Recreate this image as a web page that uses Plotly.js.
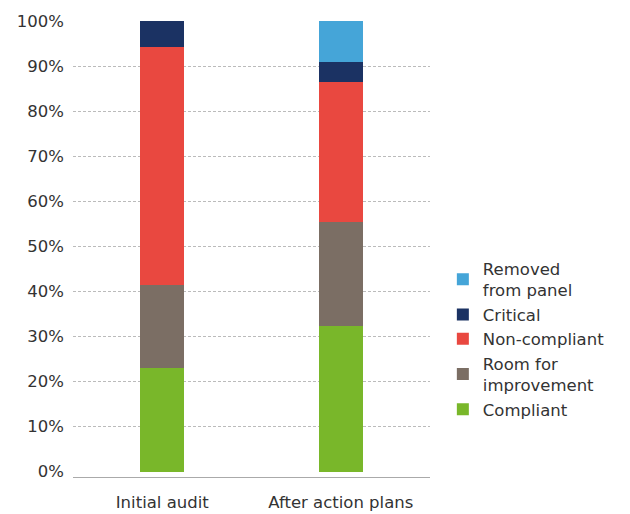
<!DOCTYPE html>
<html>
<head>
<meta charset="utf-8">
<script src="https://cdn.plot.ly/plotly-3.0.1.min.js"></script>
<style>html,body{margin:0;padding:0;background:#fff;}#chart{width:630px;height:514px;}</style>
</head>
<body>
<div id="chart"></div>
<script>
const categories = ["Initial audit", "After action plans"];
const seriesNames = ["Compliant", "Room for<br>improvement", "Non-compliant", "Critical", "Removed<br>from panel"];
const compliant = [23.0, 32.4];
const roomForImprovement = [18.4, 23.1];
const nonCompliant = [52.8, 30.9];
const critical = [5.8, 4.6];
const removedFromPanel = [0, 9.0];
const colors = ["#79B72A", "#7B6E64", "#E94840", "#1B3263", "#45A5D8"];
const yTickValues = [0, 10, 20, 30, 40, 50, 60, 70, 80, 90, 100];
const yTickLabels = ["0%", "10%", "20%", "30%", "40%", "50%", "60%", "70%", "80%", "90%", "100%"];

const seriesValues = [compliant, roomForImprovement, nonCompliant, critical, removedFromPanel];
const traces = seriesValues.map((vals, i) => ({
  type: "bar",
  name: seriesNames[i],
  x: categories,
  y: vals,
  marker: {color: colors[i], line: {width: 0}},
  hoverinfo: "name+y"
}));

const font = {family: "DejaVu Sans, sans-serif", size: 16.5, color: "#333"};
const layout = {
  width: 630, height: 514,
  barmode: "stack",
  bargap: 0.753,
  margin: {l: 73, r: 200, t: 21, b: 37},
  paper_bgcolor: "#fff",
  plot_bgcolor: "#fff",
  font: font,
  showlegend: true,
  legend: {
    x: 1.036, xanchor: "left",
    y: 0.495, yanchor: "top",
    traceorder: "reversed",
    font: font,
    bgcolor: "rgba(0,0,0,0)",
    tracegroupgap: 0
  },
  xaxis: {
    showgrid: false,
    showline: true,
    linecolor: "#aaa",
    linewidth: 1,
    ticks: "",
    ticklabelstandoff: 10,
    tickfont: font,
    fixedrange: true
  },
  yaxis: {
    range: [-1.2, 100],
    tickmode: "array",
    tickvals: yTickValues,
    ticktext: yTickLabels,
    showgrid: true,
    gridcolor: "#bbb",
    griddash: "3px,2px",
    gridwidth: 1,
    zeroline: true,
    zerolinecolor: "#fff",
    zerolinewidth: 2,
    showline: false,
    ticks: "",
    ticklabelstandoff: 8,
    tickfont: font,
    fixedrange: true
  }
};

Plotly.newPlot("chart", traces, layout, {displayModeBar: false, staticPlot: true});
</script>
</body>
</html>
